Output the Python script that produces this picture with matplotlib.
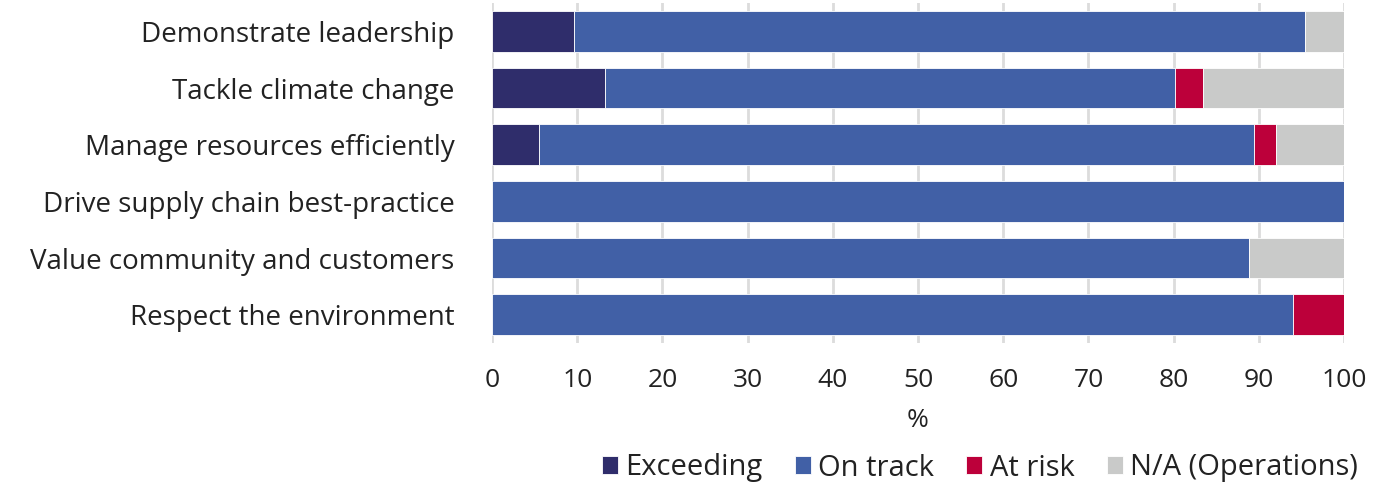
import matplotlib
matplotlib.use("Agg")
import matplotlib.pyplot as plt
import numpy as np

plt.rcParams['font.family'] = ['Open Sans', 'DejaVu Sans']

categories = [
    "Demonstrate leadership",
    "Tackle climate change",
    "Manage resources efficiently",
    "Drive supply chain best-practice",
    "Value community and customers",
    "Respect the environment",
]
exceeding = [9.6, 13.3, 5.5, 0.0, 0.0, 0.0]
on_track = [85.8, 66.9, 83.9, 100.0, 88.9, 94.0]
at_risk = [0.0, 3.3, 2.6, 0.0, 0.0, 6.0]
not_applicable = [4.6, 16.5, 8.0, 0.0, 11.1, 0.0]

series_names = ["Exceeding", "On track", "At risk", "N/A (Operations)"]
series_colors = ["#2f2d6b", "#4160a6", "#bc003a", "#c9cac9"]
series_values = [exceeding, on_track, at_risk, not_applicable]
x_ticks = [0, 10, 20, 30, 40, 50, 60, 70, 80, 90, 100]

fig = plt.figure(figsize=(13.92, 4.84), dpi=100)
ax = fig.add_axes([492 / 1392, 1 - 343 / 484, (1344 - 492) / 1392, 340 / 484])

y = np.arange(len(categories))
left = np.zeros(len(categories))
for name, color, vals in zip(series_names, series_colors, series_values):
    vals = np.array(vals)
    ax.barh(y, vals, left=left, height=0.72, color=color, label=name,
            edgecolor="white", linewidth=0.6, zorder=3)
    left += vals

ax.set_ylim(len(categories) - 0.5, -0.5)
ax.set_xlim(0, 100)
ax.set_yticks(y)
ax.set_yticklabels(categories, fontsize=20, color="#222222")
ax.set_xticks(x_ticks)
ax.set_xticklabels([str(t) for t in x_ticks], fontsize=19, color="#222222")
ax.tick_params(axis="y", length=0, pad=27)
ax.tick_params(axis="x", length=0, pad=18)
ax.grid(axis="x", color="#dcdcdc", linewidth=2, zorder=0)
ax.set_axisbelow(True)
for s in ax.spines.values():
    s.set_visible(False)
ax.set_xlabel("%", fontsize=19, color="#222222", labelpad=11)

handles, labels = ax.get_legend_handles_labels()
fig.legend(handles, labels, loc="center", bbox_to_anchor=(980 / 1392, 1 - 468 / 484),
           ncol=4, frameon=False, fontsize=21, handlelength=0.55, handleheight=0.55,
           handletextpad=0.25, columnspacing=1.1, labelcolor="#222222")

fig.savefig("out.png", dpi=100)
